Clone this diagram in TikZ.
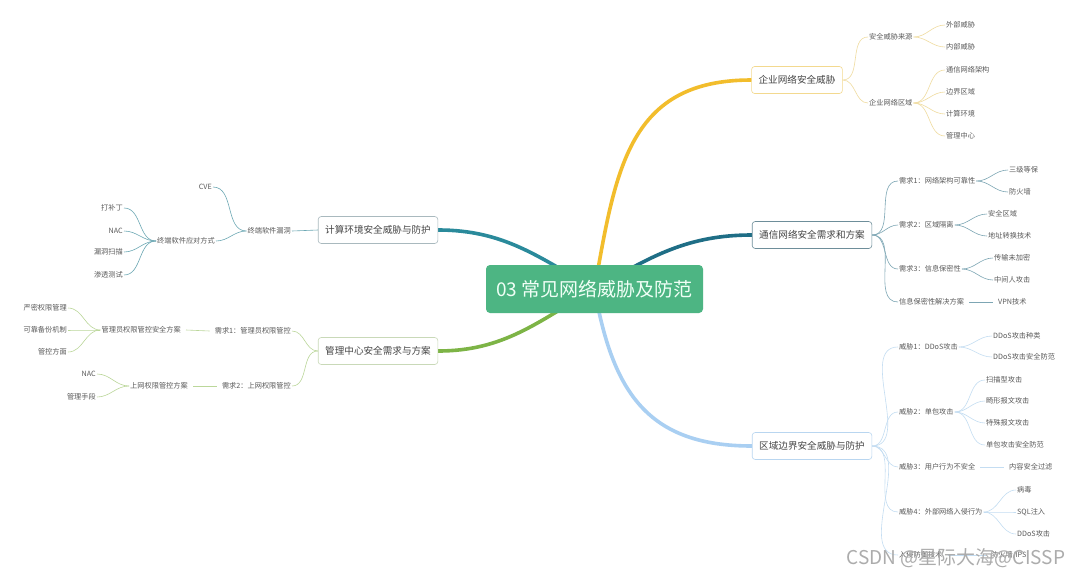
\documentclass[tikz,border=0pt]{standalone}
\usepackage{fontspec}
\setmainfont{Noto Sans CJK SC}
\usetikzlibrary{positioning, backgrounds}
\definecolor{hubfill}{HTML}{4DB583}
\definecolor{hubtext}{HTML}{F0FFF6}
\definecolor{entline}{HTML}{F2BD2C}
\definecolor{entsub}{HTML}{F0DCA0}
\definecolor{entborder}{HTML}{F3D98F}
\definecolor{commline}{HTML}{1F6E86}
\definecolor{commsub}{HTML}{7DA6B4}
\definecolor{commborder}{HTML}{6E8E9A}
\definecolor{bndline}{HTML}{A9CFF2}
\definecolor{bndsub}{HTML}{C4DDF2}
\definecolor{bndborder}{HTML}{B9D6F0}
\definecolor{compline}{HTML}{2A8A9B}
\definecolor{compsub}{HTML}{6DA8B4}
\definecolor{compborder}{HTML}{A9B9BE}
\definecolor{mgmtline}{HTML}{7DB446}
\definecolor{mgmtsub}{HTML}{BBD79A}
\definecolor{mgmtborder}{HTML}{C9D9B8}
\definecolor{leaftext}{HTML}{5A5A5A}
\definecolor{topictext}{HTML}{444444}
\tikzset{
    hub/.style={
        fill=hubfill, text=hubtext, rounded corners=4pt,
        minimum width=217pt, minimum height=48pt,
        font=\fontsize{19}{22}\selectfont, inner sep=0pt,
    },
    topic/.style={
        draw=#1, fill=white, rounded corners=3pt,
        minimum height=27pt, inner xsep=7pt,
        font=\fontsize{9.6}{11}\selectfont, text=topictext,
        line width=0.6pt,
    },
    leaf/.style={
        font=\fontsize{7.2}{8}\selectfont, text=leaftext, inner sep=1pt,
    },
    branch/.style={
        draw=#1, line width=0.6pt,
    },
    trunk/.style={
        draw=#1, line width=3.6pt, line cap=round,
    },
    wmtext/.style={
        font=\fontsize{19}{21}\selectfont, text=gray!65,
    },
}

\begin{document}
\begin{tikzpicture}[x=1pt, y=-1pt]

\begin{scope}[on background layer]
\fill[white] (0,0) rectangle (1080,582);
\end{scope}
\useasboundingbox (0,0) rectangle (1080,582);

% ── Centre topic ─────────────────────────────────────────────
\node[hub] (hub) at (594.5,289) {03 常见网络威胁及防范};

% ── 企业网络安全威胁 (top right) ─────────────────────────────
\node[topic=entborder] (ent) at (797,80) {企业网络安全威胁};
\node[leaf, anchor=west] (entsrc)  at (868,37)  {安全威胁来源};
\node[leaf, anchor=west] (entarea) at (868,103) {企业网络区域};
\node[leaf, anchor=west] (extthreat) at (945,25)  {外部威胁};
\node[leaf, anchor=west] (intthreat) at (945,47)  {内部威胁};
\node[leaf, anchor=west] (commarch)  at (945,70)  {通信网络架构};
\node[leaf, anchor=west] (border)    at (945,92)  {边界区域};
\node[leaf, anchor=west] (compenv)   at (945,114) {计算环境};
\node[leaf, anchor=west] (mgmtctr)   at (945,136) {管理中心};

\draw[branch=entsub] (ent.east) to[out=0,in=180] (entsrc.west);
\draw[branch=entsub] (ent.east) to[out=0,in=180] (entarea.west);
\draw[branch=entsub] (entsrc.east) to[out=0,in=180] (extthreat.west);
\draw[branch=entsub] (entsrc.east) to[out=0,in=180] (intthreat.west);
\draw[branch=entsub] (entarea.east) to[out=0,in=180] (commarch.west);
\draw[branch=entsub] (entarea.east) to[out=0,in=180] (border.west);
\draw[branch=entsub] (entarea.east) to[out=0,in=180] (compenv.west);
\draw[branch=entsub] (entarea.east) to[out=0,in=180] (mgmtctr.west);

% ── 通信网络安全需求和方案 (right) ───────────────────────────
\node[topic=commborder] (comm) at (812,235) {通信网络安全需求和方案};
\node[leaf, anchor=west] (req1)   at (898,181) {需求1：网络架构可靠性};
\node[leaf, anchor=west] (req2)   at (898,225) {需求2：区域隔离};
\node[leaf, anchor=west] (req3)   at (898,269) {需求3：信息保密性};
\node[leaf, anchor=west] (reqsol) at (898,302) {信息保密性解决方案};
\node[leaf, anchor=west] (grade3)   at (1008,170) {三级等保};
\node[leaf, anchor=west] (firewall) at (1008,192) {防火墙};
\node[leaf, anchor=west] (seczone)  at (987,214)  {安全区域};
\node[leaf, anchor=west] (nat)      at (987,236)  {地址转换技术};
\node[leaf, anchor=west] (plain)    at (993,258)  {传输未加密};
\node[leaf, anchor=west] (mitm)     at (993,280)  {中间人攻击};
\node[leaf, anchor=west] (vpn)      at (997,302)  {VPN技术};

\draw[branch=commsub] (comm.east) to[out=0,in=180] (req1.west);
\draw[branch=commsub] (comm.east) to[out=0,in=180] (req2.west);
\draw[branch=commsub] (comm.east) to[out=0,in=180] (req3.west);
\draw[branch=commsub] (comm.east) to[out=0,in=180] (reqsol.west);
\draw[branch=commsub] (req1.east) to[out=0,in=180] (grade3.west);
\draw[branch=commsub] (req1.east) to[out=0,in=180] (firewall.west);
\draw[branch=commsub] (req2.east) to[out=0,in=180] (seczone.west);
\draw[branch=commsub] (req2.east) to[out=0,in=180] (nat.west);
\draw[branch=commsub] (req3.east) to[out=0,in=180] (plain.west);
\draw[branch=commsub] (req3.east) to[out=0,in=180] (mitm.west);
\draw[branch=commsub] ([xshift=4pt]reqsol.east) -- ([xshift=-4pt]vpn.west);

% ── 区域边界安全威胁与防护 (bottom right) ───────────────────
\node[topic=bndborder] (bnd) at (812,446) {区域边界安全威胁与防护};
\node[leaf, anchor=west] (thr1) at (898,347) {威胁1：DDoS攻击};
\node[leaf, anchor=west] (thr2) at (898,412) {威胁2：单包攻击};
\node[leaf, anchor=west] (thr3) at (898,467) {威胁3：用户行为不安全};
\node[leaf, anchor=west] (thr4) at (898,512) {威胁4：外部网络入侵行为};
\node[leaf, anchor=west] (thr5) at (898,555) {入侵防御技术};
\node[leaf, anchor=west] (ddostype) at (992,336) {DDoS攻击种类};
\node[leaf, anchor=west] (ddosdef)  at (992,357) {DDoS攻击安全防范};
\node[leaf, anchor=west] (scanatk)  at (985,380) {扫描型攻击};
\node[leaf, anchor=west] (malform)  at (985,401) {畸形报文攻击};
\node[leaf, anchor=west] (special)  at (985,423) {特殊报文攻击};
\node[leaf, anchor=west] (pktdef)   at (985,445) {单包攻击安全防范};
\node[leaf, anchor=west] (filter)   at (1008,467) {内容安全过滤};
\node[leaf, anchor=west] (virus)    at (1016,490) {病毒};
\node[leaf, anchor=west] (sqli)     at (1016,512) {SQL注入};
\node[leaf, anchor=west] (ddos)     at (1016,534) {DDoS攻击};
\node[leaf, anchor=west] (ips)      at (990,555)  {防火墙/IPS};

\draw[branch=bndsub] (bnd.east) to[out=0,in=180] (thr1.west);
\draw[branch=bndsub] (bnd.east) to[out=0,in=180] (thr2.west);
\draw[branch=bndsub] (bnd.east) to[out=0,in=180] (thr3.west);
\draw[branch=bndsub] (bnd.east) to[out=0,in=180] (thr4.west);
\draw[branch=bndsub] (bnd.east) to[out=0,in=180] (thr5.west);
\draw[branch=bndsub] (thr1.east) to[out=0,in=180] (ddostype.west);
\draw[branch=bndsub] (thr1.east) to[out=0,in=180] (ddosdef.west);
\draw[branch=bndsub] (thr2.east) to[out=0,in=180] (scanatk.west);
\draw[branch=bndsub] (thr2.east) to[out=0,in=180] (malform.west);
\draw[branch=bndsub] (thr2.east) to[out=0,in=180] (special.west);
\draw[branch=bndsub] (thr2.east) to[out=0,in=180] (pktdef.west);
\draw[branch=bndsub] ([xshift=4pt]thr3.east) -- ([xshift=-4pt]filter.west);
\draw[branch=bndsub] (thr4.east) to[out=0,in=180] (virus.west);
\draw[branch=bndsub] (thr4.east) to[out=0,in=180] (sqli.west);
\draw[branch=bndsub] (thr4.east) to[out=0,in=180] (ddos.west);
\draw[branch=bndsub] ([xshift=4pt]thr5.east) -- ([xshift=-4pt]ips.west);

% ── 计算环境安全威胁与防护 (left, upper) ─────────────────────
\node[topic=compborder] (comp) at (378,230) {计算环境安全威胁与防护};
\node[leaf, anchor=east] (vuln)    at (292,231) {终端软件漏洞};
\node[leaf, anchor=east] (cve)     at (213,187) {CVE};
\node[leaf, anchor=east] (resp)    at (216,241) {终端软件应对方式};
\node[leaf, anchor=east] (patch)   at (124,208) {打补丁};
\node[leaf, anchor=east] (nacone)  at (124,231) {NAC};
\node[leaf, anchor=east] (scan)    at (124,252) {漏洞扫描};
\node[leaf, anchor=east] (pentest) at (124,275) {渗透测试};

\draw[branch=compsub] (comp.west) -- (vuln.east);
\draw[branch=compsub] (vuln.west) to[out=180,in=0] (cve.east);
\draw[branch=compsub] (vuln.west) to[out=180,in=0] (resp.east);
\draw[branch=compsub] (resp.west) to[out=180,in=0] (patch.east);
\draw[branch=compsub] (resp.west) to[out=180,in=0] (nacone.east);
\draw[branch=compsub] (resp.west) to[out=180,in=0] (scan.east);
\draw[branch=compsub] (resp.west) to[out=180,in=0] (pentest.east);

% ── 管理中心安全需求与方案 (left, lower) ─────────────────────
\node[topic=mgmtborder] (mgmt) at (378,351) {管理中心安全需求与方案};
\node[leaf, anchor=east] (need1)     at (292,331) {需求1：管理员权限管控};
\node[leaf, anchor=east] (need2)     at (292,386) {需求2：上网权限管控};
\node[leaf, anchor=east] (adminplan) at (182,330) {管理员权限管控安全方案};
\node[leaf, anchor=east] (netplan)   at (189,386) {上网权限管控方案};
\node[leaf, anchor=east] (strict)    at (68,308)  {严密权限管理};
\node[leaf, anchor=east] (backup)    at (68,330)  {可靠备份机制};
\node[leaf, anchor=east] (ctrl)      at (68,352)  {管控方面};
\node[leaf, anchor=east] (nactwo)    at (97,374)  {NAC};
\node[leaf, anchor=east] (means)     at (97,397)  {管理手段};

\draw[branch=mgmtsub] (mgmt.west) to[out=180,in=0] (need1.east);
\draw[branch=mgmtsub] (mgmt.west) to[out=180,in=0] (need2.east);
\draw[branch=mgmtsub] ([xshift=-4pt]need1.west) -- ([xshift=4pt]adminplan.east);
\draw[branch=mgmtsub] ([xshift=-4pt]need2.west) -- ([xshift=4pt]netplan.east);
\draw[branch=mgmtsub] (adminplan.west) to[out=180,in=0] (strict.east);
\draw[branch=mgmtsub] (adminplan.west) to[out=180,in=0] (backup.east);
\draw[branch=mgmtsub] (adminplan.west) to[out=180,in=0] (ctrl.east);
\draw[branch=mgmtsub] (netplan.west) to[out=180,in=0] (nactwo.east);
\draw[branch=mgmtsub] (netplan.west) to[out=180,in=0] (means.east);

% ── Main branches from the centre ────────────────────────────
\begin{scope}[on background layer]
\draw[trunk=entline]  (hub.center) to[out=80,in=180,looseness=1.2] (ent.west);
\draw[trunk=commline] (hub.center) to[out=30,in=180] (comm.west);
\draw[trunk=bndline]  (hub.center) to[out=-80,in=180,looseness=1.2] (bnd.west);
\draw[trunk=compline] (hub.center) to[out=150,in=0] (comp.east);
\draw[trunk=mgmtline] (hub.center) to[out=210,in=0] (mgmt.east);
\end{scope}

% watermark
\node[wmtext] (wm) at (956,558) {CSDN @星际大海@CISSP};

\end{tikzpicture}
\end{document}
